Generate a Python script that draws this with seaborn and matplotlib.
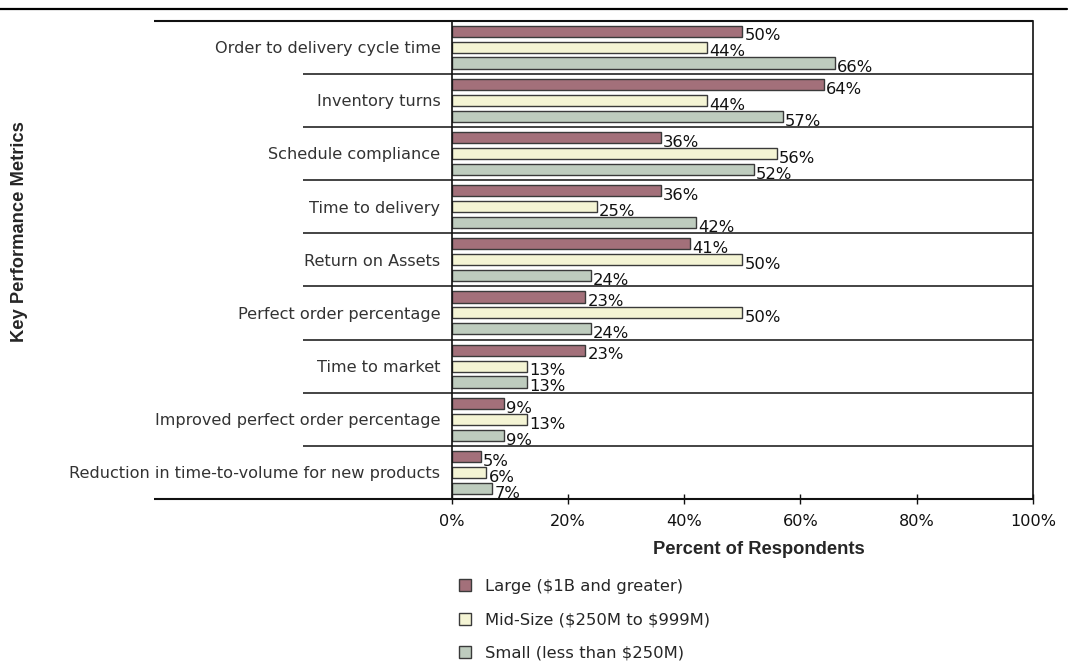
import matplotlib
matplotlib.use("Agg")
import matplotlib.pyplot as plt
from matplotlib.lines import Line2D
import numpy as np
import pandas as pd
import seaborn as sns

# Survey results: share of respondents using each KPI, by company size
metrics = [
    "Order to delivery cycle time",
    "Inventory turns",
    "Schedule compliance",
    "Time to delivery",
    "Return on Assets",
    "Perfect order percentage",
    "Time to market",
    "Improved perfect order percentage",
    "Reduction in time-to-volume for new products",
]
series_names = [
    "Large ($1B and greater)",
    "Mid-Size ($250M to $999M)",
    "Small (less than $250M)",
]
large = [50, 64, 36, 36, 41, 23, 23, 9, 5]
mid_size = [44, 44, 56, 25, 50, 50, 13, 13, 6]
small = [66, 57, 52, 42, 24, 24, 13, 9, 7]
x_ticks = [0, 20, 40, 60, 80, 100]

colors = ["#A3707A", "#F4F4D4", "#BECCBE"]

rows = []
for name, vals in zip(series_names, [large, mid_size, small]):
    for m, v in zip(metrics, vals):
        rows.append({"Metric": m, "Size": name, "Percent": v})
df = pd.DataFrame(rows)

sns.set_style("white")
plt.rcParams["font.family"] = ["DejaVu Sans"]
plt.rcParams["text.parse_math"] = False

W, H = 1070, 662
fig = plt.figure(figsize=(W / 100, H / 100), dpi=100)
left, right, top, bottom = 451.5, 1033, 20.5, 499
ax = fig.add_axes([left / W, 1 - bottom / H, (right - left) / W, (bottom - top) / H])

sns.barplot(
    data=df, x="Percent", y="Metric", hue="Size", order=metrics,
    hue_order=series_names, palette=colors, orient="h", width=0.9, gap=0.3,
    edgecolor="#3a3a3a", linewidth=1.0, saturation=1, ax=ax, legend=True,
)

# Value labels at the end of each bar
for container in ax.containers:
    for bar in container:
        w = bar.get_width()
        yc = bar.get_y() + bar.get_height() / 2
        ax.annotate(f"{w:.0f}%", xy=(w, yc), xytext=(1.5, -3.5),
                    textcoords="offset points", va="center", ha="left",
                    fontsize=11.8, color="#111111")

ax.set_xlim(0, 100)
ax.set_ylim(len(metrics) - 0.5, -0.5)
ax.set_xticks(x_ticks)
ax.set_xticklabels([f"{t}%" for t in x_ticks], fontsize=11.6)
ax.tick_params(axis="x", direction="inout", length=7, width=1, pad=7,
               colors="#111111", bottom=True)
ax.tick_params(axis="y", length=0, pad=8, labelsize=11.6, labelcolor="#333333")
ax.set_xlabel("")
ax.set_ylabel("")

for side in ["left", "right"]:
    ax.spines[side].set_visible(True)
    ax.spines[side].set_color("#111111")
    ax.spines[side].set_linewidth(1.2)
ax.spines["top"].set_visible(False)
ax.spines["bottom"].set_visible(False)

# Category separators reaching into the label column
ytr = ax.get_yaxis_transform()
for k in range(len(metrics) + 1):
    y = k - 0.5
    x0 = -0.512 if k in (0, len(metrics)) else -0.255
    lw = 1.5 if k in (0, len(metrics)) else 1.1
    ax.plot([x0, 1], [y, y], transform=ytr, color="#111111", lw=lw,
            clip_on=False, solid_capstyle="butt")

# Rule across the top of the figure
fig.add_artist(Line2D([0, 1067 / W], [1 - 8.5 / H, 1 - 8.5 / H],
                      transform=fig.transFigure, color="#000000", lw=1.6))

fig.text(759 / W, 1 - 549 / H, "Percent of Respondents", ha="center",
         va="center", fontsize=13.2, fontweight="bold",
         family=["Liberation Sans", "DejaVu Sans"])
fig.text(20 / W, 1 - 232 / H, "Key Performance Metrics", ha="center",
         va="center", rotation=90, fontsize=13.2, fontweight="bold",
         family=["Liberation Sans", "DejaVu Sans"])

handles, labels = ax.get_legend_handles_labels()
ax.get_legend().remove()
fig.legend(handles, labels, loc="upper left",
           bbox_to_anchor=(446 / W, 1 - 566 / H), frameon=False,
           fontsize=11.8, handlelength=0.75, handleheight=0.75,
           handletextpad=0.8, labelspacing=1.12, borderpad=0.3)

fig.savefig("out.png", dpi=100)
